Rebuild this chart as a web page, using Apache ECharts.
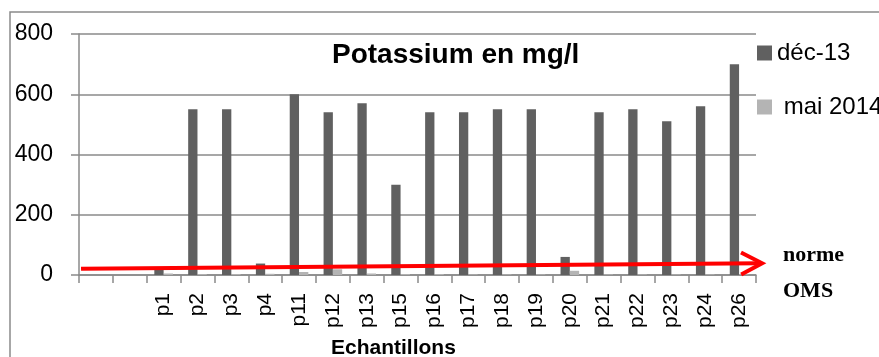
<!DOCTYPE html>
<html>
<head>
<meta charset="utf-8">
<script src="https://cdn.jsdelivr.net/npm/echarts@6/dist/echarts.min.js"></script>
<style>
  html, body { margin: 0; padding: 0; background: #fff; }
  #chart { width: 879px; height: 357px; }
</style>
</head>
<body>
<div id="chart"></div>
<script>
// Sampling points (two leading blank slots on the axis)
const categories = [' ', '  ', 'p1', 'p2', 'p3', 'p4', 'p11', 'p12', 'p13', 'p15',
  'p16', 'p17', 'p18', 'p19', 'p20', 'p21', 'p22', 'p23', 'p24', 'p26'];

// Potassium (mg/l), December 2013 campaign
const dec13 = [null, null, 20, 550, 550, 38, 600, 540, 570, 300,
  540, 540, 550, 550, 60, 540, 550, 510, 560, 700];

// Potassium (mg/l), May 2014 campaign
const mai2014 = [null, null, 5, 3, 3, 4, 10, 19, 5, 3,
  3, 2, 2, 2, 14, 2, 2, 2, 2, 2];

// Y axis ticks
const yMin = 0, yMax = 800, yStep = 200;

// WHO guideline arrow: [position along the sample axis, mg/l] at start and tip
const normeArrow = [[0.06, 21], [20.18, 39]];

const FONT = 'Liberation Sans';
const GRID_COLOR = '#8a8a8a';

const chart = echarts.init(document.getElementById('chart'), null, { renderer: 'canvas' });

chart.setOption({
  animation: false,
  backgroundColor: '#ffffff',
  title: [
    {
      text: 'Potassium en mg/l',
      left: 327, top: 35,
      textStyle: { fontFamily: FONT, fontSize: 28, fontWeight: 'bold', color: '#000', lineHeight: 30 }
    },
    {
      text: 'Echantillons',
      left: 326, top: 331,
      textStyle: { fontFamily: FONT, fontSize: 21, fontWeight: 'bold', color: '#000', lineHeight: 24 }
    }
  ],
  legend: [
    {
      data: ['déc-13'],
      orient: 'vertical', left: 757, top: 41, padding: 0,
      icon: 'rect', itemWidth: 15, itemHeight: 15,
      textStyle: { fontFamily: FONT, fontSize: 24, color: '#000', lineHeight: 24 }
    },
    {
      data: ['mai 2014'],
      orient: 'vertical', left: 757, top: 95, padding: 0,
      icon: 'rect', itemWidth: 15, itemHeight: 15,
      formatter: ' {name}',
      textStyle: { fontFamily: FONT, fontSize: 24, color: '#000', lineHeight: 24 }
    }
  ],
  grid: { left: 79, right: 123, top: 34, bottom: 82, containLabel: false },
  xAxis: [
    {
      type: 'category',
      data: categories,
      boundaryGap: true,
      axisLine: { show: true, lineStyle: { color: GRID_COLOR, width: 1.5 } },
      axisTick: { show: true, interval: 0, length: 8, lineStyle: { color: GRID_COLOR, width: 1.5 } },
      axisLabel: {
        interval: 0, rotate: 90, margin: 18,
        fontFamily: FONT, fontSize: 21, color: '#000'
      },
      splitLine: { show: false }
    },
    {
      // hidden linear axis used to place the guideline arrow
      type: 'value', min: 0, max: categories.length,
      show: false
    }
  ],
  yAxis: {
    type: 'value',
    min: yMin, max: yMax, interval: yStep,
    axisLine: { show: true, lineStyle: { color: GRID_COLOR, width: 1.5 } },
    axisTick: { show: true, length: 8, lineStyle: { color: GRID_COLOR, width: 1.5 } },
    axisLabel: { margin: 26, fontFamily: FONT, fontSize: 23, color: '#000' },
    splitLine: { show: true, lineStyle: { color: GRID_COLOR, width: 1.5 } }
  },
  series: [
    {
      name: 'déc-13',
      type: 'bar',
      data: dec13,
      barWidth: 9.3,
      barGap: '0%',
      itemStyle: { color: '#606060' },
      z: 2
    },
    {
      name: 'mai 2014',
      type: 'bar',
      data: mai2014,
      barWidth: 9.3,
      barGap: '0%',
      itemStyle: { color: '#b4b4b4' },
      z: 2
    },
    {
      name: 'norme',
      type: 'custom',
      xAxisIndex: 1,
      clip: false,
      z: 10,
      data: [normeArrow[0].concat(normeArrow[1])],
      renderItem: function (params, api) {
        const a = api.coord([api.value(0), api.value(1)]);
        const b = api.coord([api.value(2), api.value(3)]);
        const dx = b[0] - a[0], dy = b[1] - a[1];
        const len = Math.sqrt(dx * dx + dy * dy);
        const ux = dx / len, uy = dy / len;
        const back = 21, half = 11;
        const p1 = [b[0] - ux * back - uy * half, b[1] - uy * back + ux * half];
        const p2 = [b[0] - ux * back + uy * half, b[1] - uy * back - ux * half];
        const stroke = { stroke: '#ff0000', lineWidth: 4, fill: null };
        return {
          type: 'group',
          children: [
            { type: 'line', shape: { x1: a[0], y1: a[1], x2: b[0] - ux * 2, y2: b[1] - uy * 2 }, style: stroke },
            { type: 'polyline', shape: { points: [p1, b, p2] }, style: Object.assign({ lineJoin: 'miter' }, stroke) }
          ]
        };
      }
    }
  ],
  graphic: [
    {
      type: 'rect',
      shape: { x: 10, y: 12, width: 900, height: 400 },
      style: { fill: null, stroke: GRID_COLOR, lineWidth: 1.5 },
      silent: true
    },
    {
      type: 'text', left: 783, top: 244,
      style: { text: 'norme', font: 'bold 22px "Liberation Serif"', fill: '#000' }
    },
    {
      type: 'text', left: 783, top: 280,
      style: { text: 'OMS', font: 'bold 22px "Liberation Serif"', fill: '#000' }
    }
  ]
});
</script>
</body>
</html>
